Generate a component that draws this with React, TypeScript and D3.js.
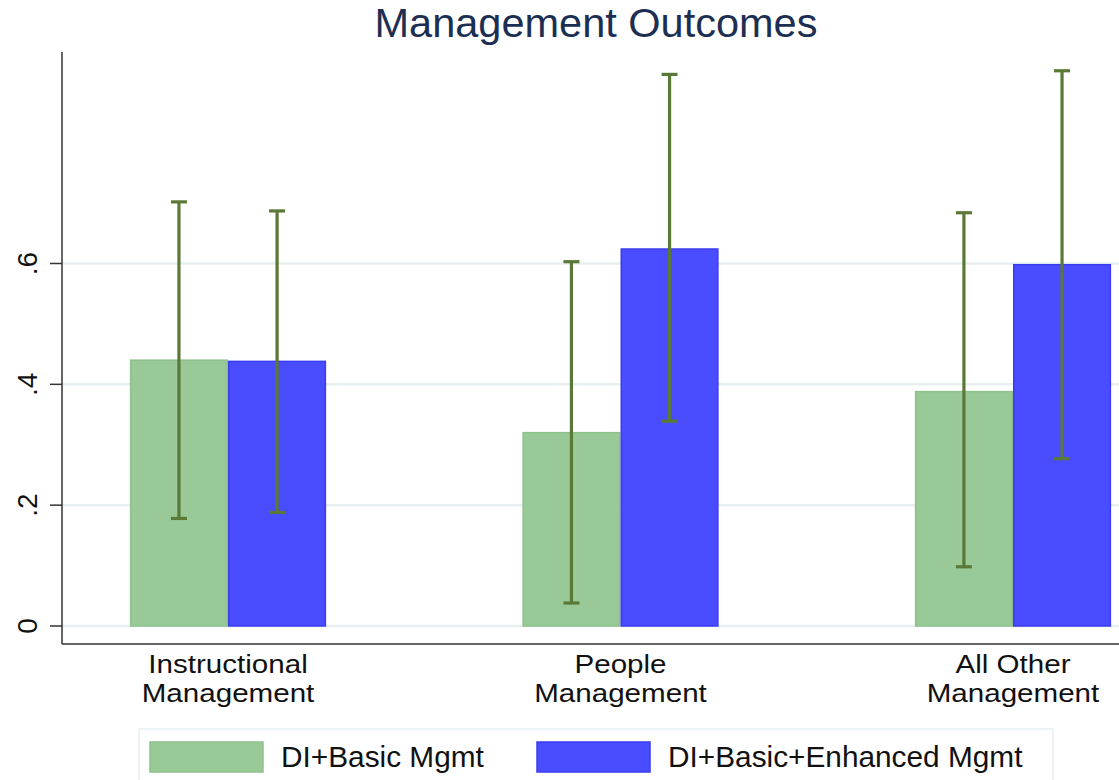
import React from "react";
import * as d3 from "d3";

const categories = ["Instructional\nManagement", "People\nManagement", "All Other\nManagement"];
const seriesNames = ["DI+Basic Mgmt", "DI+Basic+Enhanced Mgmt"];
const basicValues = [0.440, 0.320, 0.388];
const basicLower = [0.178, 0.038, 0.098];
const basicUpper = [0.702, 0.603, 0.684];
const enhancedValues = [0.438, 0.624, 0.598];
const enhancedLower = [0.188, 0.339, 0.277];
const enhancedUpper = [0.687, 0.913, 0.919];
const yTicks = [0, 0.2, 0.4, 0.6];
const yTickLabels = ["0", ".2", ".4", ".6"];

const seriesColors = ["#98c996", "#4a4cff"];
const seriesStroke = ["#8cc28a", "#3a3cf0"];
const errColor = "#5a7936";
const font = "'Liberation Sans', Arial, sans-serif";

const W = 1119;
const H = 780;
const plotLeft = 62;
const plotTop = 52;
const axisBottom = 644;

export default function App() {
  const y = d3.scaleLinear().domain([0, 0.6]).range([626, 263.5]);
  const x = d3.scaleBand<string>().domain(categories).range([plotLeft, 1179]).paddingInner(0.5).paddingOuter(0.173);
  const xs = d3.scaleBand<string>().domain(seriesNames).range([0, x.bandwidth()]).padding(0);

  const series = [
    { name: seriesNames[0], values: basicValues, lo: basicLower, hi: basicUpper },
    { name: seriesNames[1], values: enhancedValues, lo: enhancedLower, hi: enhancedUpper },
  ];

  const capHalf = 8;
  const stretch = 1.16;

  return (
    <svg width={W} height={H} style={{ position: "absolute", left: 0, top: 0, background: "#fff" }} fontFamily={font}>
      <rect x={0} y={0} width={W} height={H} fill="#ffffff" />
      {/* title */}
      <text x={596} y={37} textAnchor="middle" fontSize={41.5} fill="#1c2f53">Management Outcomes</text>

      {/* gridlines */}
      {yTicks.map((t) => (
        <line key={"g" + t} x1={plotLeft} x2={W} y1={y(t)} y2={y(t)} stroke="#e8eff1" strokeWidth={2.5} />
      ))}

      {/* bars */}
      {series.map((s, si) =>
        categories.map((c, ci) => {
          const bx = (x(c) as number) + (xs(s.name) as number);
          return (
            <rect key={"b" + si + ci} x={bx + 0.75} y={y(s.values[ci])} width={xs.bandwidth() - 1.5}
              height={y(0) - y(s.values[ci])} fill={seriesColors[si]} stroke={seriesStroke[si]} strokeWidth={1.5} />
          );
        })
      )}

      {/* error bars */}
      {series.map((s, si) =>
        categories.map((c, ci) => {
          const cx = (x(c) as number) + (xs(s.name) as number) + xs.bandwidth() / 2;
          return (
            <g key={"e" + si + ci} stroke={errColor} strokeWidth={3.2}>
              <line x1={cx} x2={cx} y1={y(s.hi[ci])} y2={y(s.lo[ci])} />
              <line x1={cx - capHalf} x2={cx + capHalf} y1={y(s.hi[ci])} y2={y(s.hi[ci])} />
              <line x1={cx - capHalf} x2={cx + capHalf} y1={y(s.lo[ci])} y2={y(s.lo[ci])} />
            </g>
          );
        })
      )}

      {/* axes */}
      <line x1={plotLeft} x2={plotLeft} y1={plotTop} y2={axisBottom} stroke="#333" strokeWidth={1.5} />
      <line x1={plotLeft} x2={W} y1={axisBottom} y2={axisBottom} stroke="#333" strokeWidth={1.5} />
      {yTicks.map((t, i) => (
        <g key={"t" + t}>
          <line x1={plotLeft - 12} x2={plotLeft} y1={y(t)} y2={y(t)} stroke="#333" strokeWidth={1.5} />
          <text transform={`translate(37,${y(t)}) rotate(-90)`} textAnchor="middle"
            fontSize={28} fill="#111">{yTickLabels[i]}</text>
        </g>
      ))}

      {/* category labels */}
      {categories.map((c) => {
        const cx = (x(c) as number) + x.bandwidth() / 2;
        return c.split("\n").map((line, li) => (
          <text key={c + li} transform={`translate(${cx},${673 + li * 29}) scale(${stretch},1)`} textAnchor="middle"
            fontSize={25.5} fill="#111">{line}</text>
        ));
      })}

      {/* legend */}
      <rect x={139} y={729} width={914} height={70} fill="#fff" stroke="#e8eff1" strokeWidth={1.5} />
      {[150, 537].map((lx, i) => (
        <g key={"l" + i}>
          <rect x={lx} y={742} width={113} height={30} fill={seriesColors[i]} stroke={seriesStroke[i]} strokeWidth={1.5} />
          <text x={lx + 131} y={767} fontSize={29.8} fill="#111">{seriesNames[i]}</text>
        </g>
      ))}
    </svg>
  );
}
